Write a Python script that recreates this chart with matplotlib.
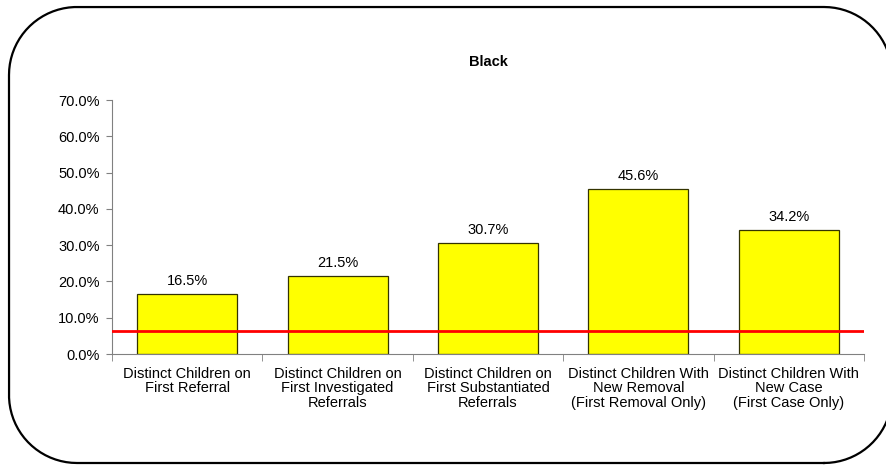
import matplotlib
matplotlib.use("Agg")
import matplotlib.pyplot as plt
from matplotlib.lines import Line2D
from matplotlib.transforms import IdentityTransform
from matplotlib.ticker import FuncFormatter, MultipleLocator
import numpy as np

plt.rcParams['font.family'] = ['Liberation Sans', 'DejaVu Sans']

categories = ["Distinct Children on\nFirst Referral",
              "Distinct Children on\nFirst Investigated\nReferrals",
              "Distinct Children on\nFirst Substantiated\nReferrals",
              "Distinct Children With\nNew Removal\n(First Removal Only)",
              "Distinct Children With\nNew Case\n(First Case Only)"]
values = [16.5, 21.5, 30.7, 45.6, 34.2]
reference_line = 6.3
title = "Black"

W, H = 886, 465
fig = plt.figure(figsize=(W/100, H/100), dpi=100)


def rounded_rect(x0, y0, x1, y1, r, n=40):
    pts = []
    corners = [((x1 - r, y0 + r), -90, 0),
               ((x1 - r, y1 - r), 0, 90),
               ((x0 + r, y1 - r), 90, 180),
               ((x0 + r, y0 + r), 180, 270)]
    for (cx, cy), a0, a1 in corners:
        t = np.radians(np.linspace(a0, a1, n))
        pts.extend(zip(cx + r*np.cos(t), cy + r*np.sin(t)))
    pts.append(pts[0])
    p = np.array(pts)
    return p[:, 0], p[:, 1]


# rounded border in pixel coordinates (origin bottom-left)
bx, by = rounded_rect(9, 2, 892, 458, 68)
fig.lines.append(Line2D(bx, by, transform=IdentityTransform(), color='black',
                        linewidth=1.6, solid_joinstyle='round'))

ax = fig.add_axes([112/W, 1-354/H, 752/W, 254/H])
x = np.arange(len(categories))
ax.bar(x, values, width=0.665, color='#FFFF00', edgecolor='#333300', linewidth=0.9, zorder=2)
for xi, v in zip(x, values):
    ax.text(xi, v + 1.6, f"{v:.1f}%", ha='center', va='bottom', fontsize=10.5)
ax.axhline(reference_line, color='#FF0000', linewidth=2, zorder=3)

ax.set_xlim(-0.5, len(categories) - 0.5)
ax.set_ylim(0, 70)
ax.yaxis.set_major_locator(MultipleLocator(10))
ax.yaxis.set_major_formatter(FuncFormatter(lambda v, p: f"{v:.1f}%"))
ax.set_xticks(x)
ax.set_xticklabels(categories, fontsize=10.5, linespacing=1.05)
ax.tick_params(axis='x', which='major', length=0, pad=9)
ax.set_xticks(np.arange(-0.5, len(categories)), minor=True)
ax.tick_params(axis='x', which='minor', length=5, color='#808080')
ax.tick_params(axis='y', labelsize=10.5, length=4, color='#808080', pad=5)
for s in ['top', 'right']:
    ax.spines[s].set_visible(False)
for s in ['left', 'bottom']:
    ax.spines[s].set_color('#808080')

ax.set_title(title, fontsize=10.5, fontweight='bold', y=1, pad=0)
ax.title.set_position((0.5, 1 + (100-62)/254))
ax.title.set_va('center')

fig.savefig("out.png", dpi=100)
